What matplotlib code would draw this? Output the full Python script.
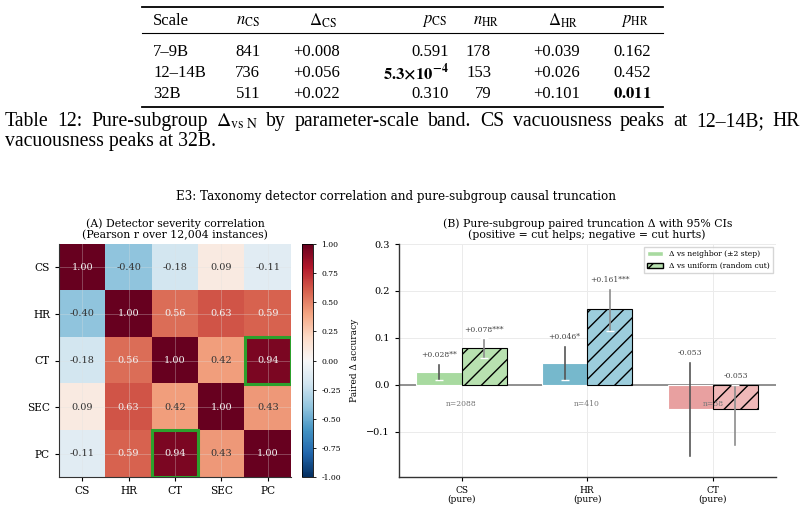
import numpy as np
import matplotlib
matplotlib.use("Agg")
import matplotlib.pyplot as plt
from matplotlib.patches import Rectangle, Patch

plt.rcParams['font.family'] = 'DejaVu Serif'
plt.rcParams['mathtext.fontset'] = 'stix'

# ---- table data (Table 12) ----
scale_bands = ['7–9B', '12–14B', '32B']
n_cs = ['841', '736', '511']
delta_cs = ['+0.008', '+0.056', '+0.022']
p_cs = ['0.591', r'$\mathbf{5.3{\times}10^{-4}}$', '0.310']
n_hr = ['178', '153', '79']
delta_hr = ['+0.039', '+0.026', '+0.101']
p_hr = ['0.162', '0.452', r'$\mathbf{0.011}$']
table_headers = ['Scale', r'$n_{\rm CS}$', r'$\Delta_{\rm CS}$', r'$p_{\rm CS}$',
                 r'$n_{\rm HR}$', r'$\Delta_{\rm HR}$', r'$p_{\rm HR}$']
caption_words1 = ['Table', '12:', 'Pure-subgroup', r'$\Delta_{\mathrm{vs\ N}}$', 'by',
                  'parameter-scale', 'band.', 'CS', 'vacuousness', 'peaks', 'at',
                  '12–14B;', 'HR']
caption_line2 = 'vacuousness peaks at 32B.'

# ---- panel A: detector correlation ----
detectors = ['CS', 'HR', 'CT', 'SEC', 'PC']
corr = np.array([
    [1.00, -0.40, -0.18, 0.09, -0.11],
    [-0.40, 1.00, 0.56, 0.63, 0.59],
    [-0.18, 0.56, 1.00, 0.42, 0.94],
    [0.09, 0.63, 0.42, 1.00, 0.43],
    [-0.11, 0.59, 0.94, 0.43, 1.00],
])
highlight_cells = [(2, 4), (4, 2)]  # (row, col)

# ---- panel B: pure-subgroup truncation ----
groups = ['CS', 'HR', 'CT']
n_pure = [2088, 410, 38]
d_neighbor = [0.028, 0.046, -0.053]
lo_neighbor = [0.009, 0.010, -0.155]
hi_neighbor = [0.046, 0.084, 0.051]
star_neighbor = ['**', '*', '']
d_uniform = [0.078, 0.161, -0.053]
lo_uniform = [0.056, 0.115, -0.130]
hi_uniform = [0.099, 0.206, 0.000]
star_uniform = ['***', '***', '']

col_neighbor = ['#a8daa0', '#76b8cc', '#e8a0a0']
col_uniform = ['#b8e1b0', '#9ccddc', '#f0b8b8']

W, H = 805, 509
fig = plt.figure(figsize=(W / 100, H / 100), dpi=100)


def fx(px):
    return px / W


def fy(py):
    return 1 - py / H


# ---- table drawn as text ----
tfont = dict(family='Liberation Serif', fontsize=12, color='black')
for y, lw in [(7, 1.3), (33, 0.8), (107, 1.3)]:
    fig.add_artist(plt.Line2D([fx(142), fx(663)], [fy(y), fy(y)], color='black', lw=lw))

col_x = [153, 260, 340, 449, 491, 580, 651]
head_x = [153, 260, 337, 447, 499, 578, 649]
for j, h in enumerate(table_headers):
    fig.text(fx(head_x[j]), fy(21), h, ha='left' if j == 0 else 'right', va='center', **tfont)

rows = list(zip(scale_bands, n_cs, delta_cs, p_cs, n_hr, delta_hr, p_hr))
for i, row in enumerate(rows):
    y = fy(52 + 21 * i)
    for j, val in enumerate(row):
        fig.text(fx(col_x[j]), y, val, ha='left' if j == 0 else 'right', va='center', **tfont)

# caption: first line justified across the text width
cfont = dict(family='Liberation Serif', fontsize=14.2, color='black')
renderer = fig.canvas.get_renderer()
word_artists = [fig.text(0, fy(121), w_, ha='left', va='baseline', **cfont) for w_ in caption_words1]
for a in word_artists:
    a.set_y(fy(126))
widths = [a.get_window_extent(renderer).width for a in word_artists]
gap = (800 - 5 - sum(widths)) / (len(caption_words1) - 1)
xpos = 5
for a, wd in zip(word_artists, widths):
    a.set_x(fx(xpos))
    xpos += wd + gap
fig.text(fx(5), fy(146), caption_line2, ha='left', va='baseline', **cfont)

# ---- figure title ----
fig.text(fx(396), fy(197), 'E3: Taxonomy detector correlation and pure-subgroup causal truncation',
         ha='center', va='center', fontsize=8.6)

ax_top, ax_bot = 244, 477
ax_h = (ax_bot - ax_top) / H
ax_y0 = 1 - ax_bot / H

# ---- panel A ----
axA = fig.add_axes([fx(59), ax_y0, (291 - 59) / W, ax_h])
im = axA.imshow(corr, cmap='RdBu_r', vmin=-1, vmax=1, aspect='auto')
for i in range(len(detectors)):
    for j in range(len(detectors)):
        v = corr[i, j]
        axA.text(j, i, f'{v:.2f}', ha='center', va='center', fontsize=7,
                 color='#f2f2f2' if abs(v) > 0.5 else '#333333')
for r, c in highlight_cells:
    axA.add_patch(Rectangle((c - 0.5, r - 0.5), 1, 1, fill=False, edgecolor='#2ca02c', lw=2.2, zorder=5))
axA.set_xticks(range(len(detectors)))
axA.set_xticklabels(detectors, fontsize=7.6)
axA.set_yticks(range(len(detectors)))
axA.set_yticklabels(detectors, fontsize=7.6)
axA.grid(True, color='#e0e0e0', alpha=0.3, lw=0.7)
axA.tick_params(length=3, width=0.8)
for s in ['top', 'right']:
    axA.spines[s].set_visible(False)
for s in ['left', 'bottom']:
    axA.spines[s].set_color('#333333')
axA.set_title('(A) Detector severity correlation\n(Pearson r over 12,004 instances)',
              fontsize=7.8, pad=4, linespacing=1.1)

cax = fig.add_axes([fx(302), ax_y0, 11 / W, ax_h])
cb = fig.colorbar(im, cax=cax, ticks=np.linspace(-1, 1, 9), format='%.2f')
cb.ax.tick_params(labelsize=5.5, length=2.5, width=0.6)
cb.outline.set_linewidth(0.6)

# ---- panel B ----
axB = fig.add_axes([fx(398.7), ax_y0, (775.7 - 398.7) / W, ax_h])
x = np.arange(len(groups))
w = 0.36
xn = x - w / 2
xu = x + w / 2
axB.bar(xn, d_neighbor, w, color=col_neighbor, edgecolor='white', lw=0.8, zorder=2)
axB.bar(xu, d_uniform, w, color=col_uniform, edgecolor='black', lw=0.8, hatch='//', zorder=2)

for xs, d, lo, hi, ec in [(xn, d_neighbor, lo_neighbor, hi_neighbor, '#555555'),
                           (xu, d_uniform, lo_uniform, hi_uniform, '#8c8c8c')]:
    d = np.array(d)
    yerr = [d - np.array(lo), np.array(hi) - d]
    _, caps, _ = axB.errorbar(xs, d, yerr=yerr, fmt='none', ecolor=ec, elinewidth=1.2,
                              capsize=3, capthick=1.0, zorder=3)
    for c in caps:
        c.set_color('white')
        c.set_markeredgecolor('white')
        c.set_markerfacecolor('white')

for xs, d, hi, st in [(xn, d_neighbor, hi_neighbor, star_neighbor),
                      (xu, d_uniform, hi_uniform, star_uniform)]:
    for k in range(len(groups)):
        axB.text(xs[k], hi[k] + 0.009, f'{d[k]:+.3f}{st[k]}', ha='center', va='bottom',
                 fontsize=5.5, color='#444444', zorder=4)

for k in range(len(groups)):
    axB.text(x[k], -0.042, f'n={n_pure[k]}', ha='center', va='center', fontsize=5.5,
             color='#777777', zorder=4)

axB.axhline(0, color='#888888', lw=1.3, zorder=1)
axB.set_xlim(-0.5, 2.5)
axB.set_ylim(-0.197, 0.3)
axB.set_yticks([-0.1, 0.0, 0.1, 0.2, 0.3])
axB.set_xticks(x)
axB.set_xticklabels([f'{g}\n(pure)' for g in groups], fontsize=6.5, linespacing=1.0)
axB.tick_params(axis='y', labelsize=7, length=3, width=0.8)
axB.tick_params(axis='x', length=3, width=0.8)
axB.grid(True, color='#ebebeb', lw=0.7, zorder=0)
axB.set_axisbelow(True)
for s in ['top', 'right']:
    axB.spines[s].set_visible(False)
for s in ['left', 'bottom']:
    axB.spines[s].set_color('#333333')
    axB.spines[s].set_linewidth(1.0)
axB.set_ylabel('Paired Δ accuracy', fontsize=6.5, labelpad=5)
axB.set_title('(B) Pure-subgroup paired truncation Δ with 95% CIs\n(positive = cut helps; negative = cut hurts)',
              fontsize=7.8, pad=4, linespacing=1.1)

handles = [Patch(facecolor=col_neighbor[0], edgecolor='white', label='Δ vs neighbor (±2 step)'),
           Patch(facecolor=col_uniform[0], edgecolor='black', hatch='//', label='Δ vs uniform (random cut)')]
axB.legend(handles=handles, loc='upper right', fontsize=5.5, frameon=True, edgecolor='#cccccc',
           fancybox=False, borderaxespad=0.4, handlelength=2.0)

fig.savefig('out.png', dpi=100)
